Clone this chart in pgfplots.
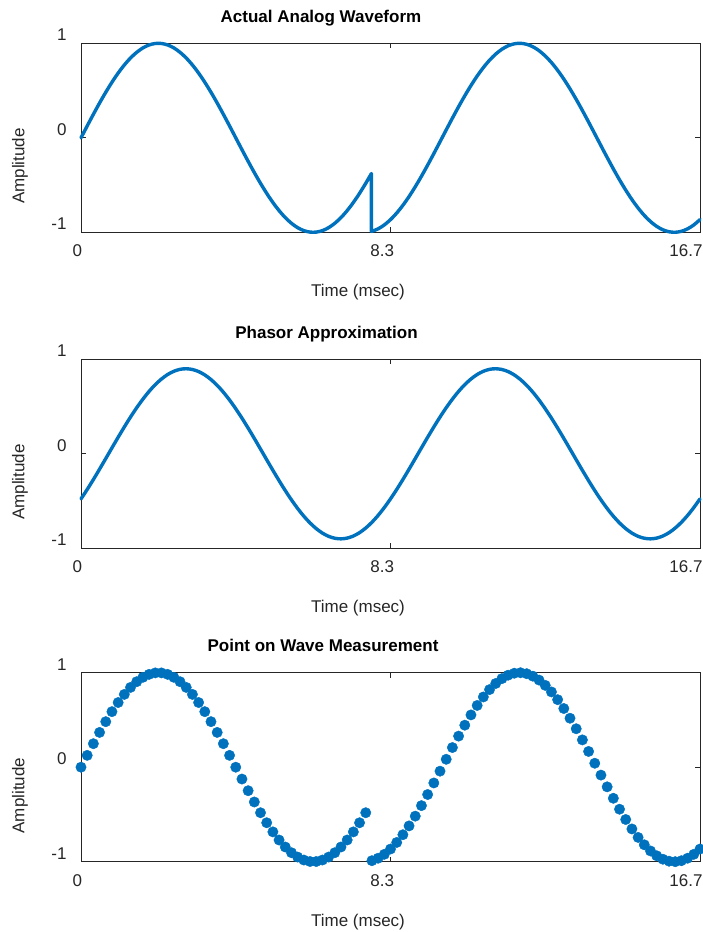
\documentclass[border=0pt]{standalone}
\usepackage{fontspec}
\setmainfont{Liberation Sans}
\usepackage{pgfplots}
\usepackage{pgfplotstable}
\pgfplotsset{compat=1.18}
\definecolor{mblue}{RGB}{0,114,189}
\definecolor{axgray}{RGB}{38,38,38}

\pgfplotstableread{
t pow ph
0 0 -0.4769
0.1667 0.1253 -0.3776
0.3333 0.2487 -0.2722
0.5 0.3681 -0.1625
0.6667 0.4818 -0.0502
0.8333 0.5878 0.0628
1 0.6845 0.1748
1.1667 0.7705 0.2840
1.3333 0.8443 0.3889
1.5 0.9048 0.4875
1.6667 0.9511 0.5785
1.8333 0.9823 0.6603
2 0.9980 0.7318
2.1667 0.9980 0.7916
2.3333 0.9823 0.8391
2.5 0.9511 0.8733
2.6667 0.9048 0.8937
2.8333 0.8443 0.9000
3 0.7705 0.8921
3.1667 0.6845 0.8701
3.3333 0.5878 0.8345
3.5 0.4818 0.7856
3.6667 0.3681 0.7244
3.8333 0.2487 0.6518
4 0.1253 0.5688
4.1667 0 0.4769
4.3333 -0.1253 0.3776
4.5 -0.2487 0.2722
4.6667 -0.3681 0.1625
4.8333 -0.4818 0.0502
5 -0.5878 -0.0628
5.1667 -0.6845 -0.1748
5.3333 -0.7705 -0.2840
5.5 -0.8443 -0.3889
5.6667 -0.9048 -0.4875
5.8333 -0.9511 -0.5785
6 -0.9823 -0.6603
6.1667 -0.9980 -0.7318
6.3333 -0.9980 -0.7916
6.5 -0.9823 -0.8391
6.6667 -0.9511 -0.8733
6.8333 -0.9048 -0.8937
7 -0.8443 -0.9000
7.1667 -0.7705 -0.8921
7.3333 -0.6845 -0.8701
7.5 -0.5878 -0.8345
7.6667 -0.4818 -0.7856
7.8333 -0.9893 -0.7244
8 -0.9632 -0.6518
8.1667 -0.9219 -0.5688
8.3333 -0.8660 -0.4769
8.5 -0.7965 -0.3776
8.6667 -0.7145 -0.2722
8.8333 -0.6211 -0.1625
9 -0.5180 -0.0502
9.1667 -0.4067 0.0628
9.3333 -0.2890 0.1748
9.5 -0.1668 0.2840
9.6667 -0.0419 0.3889
9.8333 0.0837 0.4875
10 0.2079 0.5785
10.1667 0.3289 0.6603
10.3333 0.4446 0.7318
10.5 0.5534 0.7916
10.6667 0.6534 0.8391
10.8333 0.7431 0.8733
11 0.8211 0.8937
11.1667 0.8862 0.9000
11.3333 0.9373 0.8921
11.5 0.9736 0.8701
11.6667 0.9945 0.8345
11.8333 0.9998 0.7856
12 0.9893 0.7244
12.1667 0.9632 0.6518
12.3333 0.9219 0.5688
12.5 0.8660 0.4769
12.6667 0.7965 0.3776
12.8333 0.7145 0.2722
13 0.6211 0.1625
13.1667 0.5180 0.0502
13.3333 0.4067 -0.0628
13.5 0.2890 -0.1748
13.6667 0.1668 -0.2840
13.8333 0.0419 -0.3889
14 -0.0837 -0.4875
14.1667 -0.2079 -0.5785
14.3333 -0.3289 -0.6603
14.5 -0.4446 -0.7318
14.6667 -0.5534 -0.7916
14.8333 -0.6534 -0.8391
15 -0.7431 -0.8733
15.1667 -0.8211 -0.8937
15.3333 -0.8862 -0.9000
15.5 -0.9373 -0.8921
15.6667 -0.9736 -0.8701
15.8333 -0.9945 -0.8345
16 -0.9998 -0.7856
16.1667 -0.9893 -0.7244
16.3333 -0.9632 -0.6518
16.5 -0.9219 -0.5688
16.6667 -0.8660 -0.4769
}\data

\pgfplotsset{base/.style={
  scale only axis, width=619pt, height=189pt,
  xmin=0, xmax=16.6667, ymin=-1, ymax=1,
  xtick={0,8.3333,16.6667},
  xticklabels={{\hspace*{9.4pt}0},{8.3},{16.7\hspace*{11.4pt}}},
  ytick={-1,0,1}, yticklabels={-1,0,1},
  tick align=inside, major tick length=5pt,
  axis line style={draw=axgray, line width=0.9pt},
  every tick/.append style={draw=axgray, line width=0.9pt},
  tick label style={font=\fontsize{17}{20}\selectfont, text=axgray},
  xticklabel style={xshift=-8.3pt, yshift=-9pt},
  yticklabel style={xshift=-11pt, yshift=8.5pt},
  title style={anchor=base, yshift=15pt, font=\bfseries\fontsize{17}{20}\selectfont},
  xlabel={Time (msec)},
  xlabel style={at={(axis description cs:0.4475,0)}, anchor=base, yshift=-64.5pt, font=\fontsize{17}{20}\selectfont, text=axgray},
  ylabel={Amplitude},
  ylabel style={at={(axis description cs:-0.0985,0.35)}, anchor=center, font=\fontsize{17}{20}\selectfont, text=axgray},
  clip=false,
  /pgf/number format/assume math mode=true,
  every axis plot/.append style={line cap=round, line join=round},
}}

\begin{document}
\begin{tikzpicture}
\useasboundingbox (0,0) rectangle (702pt,932pt);

\begin{axis}[base, at={(81pt,699.7pt)}, anchor=south west,
  title={Actual Analog Waveform},
  title style={at={(axis description cs:0.3877,1)}}]
\addplot[mblue, line width=3.4pt, smooth, restrict x to domain=0:7.7] table[x=t,y=pow]{\data};
\addplot[mblue, line width=3.4pt] coordinates {(7.6667,-0.4818) (7.82,-0.378) (7.82,-0.9907) (7.8333,-0.9893)};
\addplot[mblue, line width=3.4pt, smooth, restrict x to domain=7.8:17] table[x=t,y=pow]{\data};
\end{axis}

\begin{axis}[base, at={(81pt,383.7pt)}, anchor=south west,
  title={Phasor Approximation},
  title style={at={(axis description cs:0.3966,1)}}]
\addplot[mblue, line width=3.4pt, smooth] table[x=t,y=ph]{\data};
\end{axis}

\begin{axis}[base, at={(81pt,70.3pt)}, anchor=south west,
  title={Point on Wave Measurement},
  title style={at={(axis description cs:0.3910,1)}}]
\addplot[only marks, mark=*, mark size=5.2pt, color=mblue, mark options={draw=mblue, fill=mblue}] table[x=t,y=pow]{\data};
\end{axis}
\end{tikzpicture}
\end{document}
